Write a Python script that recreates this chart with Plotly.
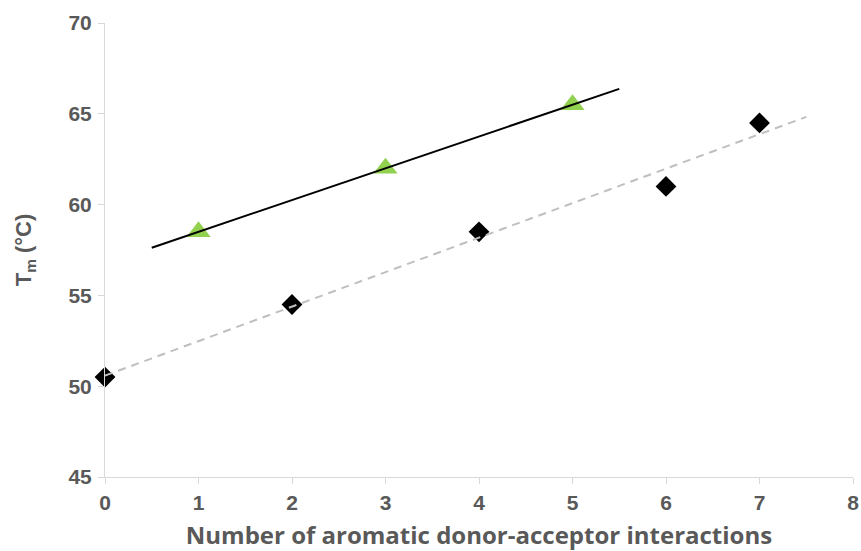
import numpy as np
import plotly.graph_objects as go

# Data
diamond_x = [0, 2, 4, 6, 7]
diamond_y = [50.5, 54.5, 58.5, 61.0, 64.5]
triangle_x = [1, 3, 5]
triangle_y = [58.5, 62.0, 65.5]
diamond_trend_span = [0, 7.5]
triangle_trend_span = [0.5, 5.5]
x_ticks = [0, 1, 2, 3, 4, 5, 6, 7, 8]
y_ticks = [45, 50, 55, 60, 65, 70]

GRAY_TXT = "#595959"
AXIS_COL = "#D9D9D9"

d_coef = np.polyfit(diamond_x, diamond_y, 1)
t_coef = np.polyfit(triangle_x, triangle_y, 1)
d_tx = np.array(diamond_trend_span, dtype=float)
t_tx = np.array(triangle_trend_span, dtype=float)

fig = go.Figure()
fig.add_trace(go.Scatter(
    x=diamond_x, y=diamond_y, mode="markers", cliponaxis=False,
    marker=dict(symbol="diamond", size=16, color="black"), showlegend=False))
fig.add_trace(go.Scatter(
    x=triangle_x, y=triangle_y, mode="markers", cliponaxis=False,
    marker=dict(symbol="triangle-up", size=21, color="#92D050"), showlegend=False))
fig.add_trace(go.Scatter(
    x=d_tx, y=np.polyval(d_coef, d_tx), mode="lines", cliponaxis=False,
    line=dict(color="#BFBFBF", width=2, dash="8px,6px"), showlegend=False))
fig.add_trace(go.Scatter(
    x=t_tx, y=np.polyval(t_coef, t_tx), mode="lines", cliponaxis=False,
    line=dict(color="black", width=2), showlegend=False))

tickfont = dict(family="Liberation Sans", size=21, color=GRAY_TXT, weight="bold")

fig.update_layout(
    width=861, height=551,
    margin=dict(l=105, r=8, t=23, b=74, autoexpand=False),
    plot_bgcolor="white", paper_bgcolor="white",
    xaxis=dict(
        range=[0, 8], tickvals=x_ticks, ticktext=[str(v) for v in x_ticks],
        showgrid=False, zeroline=False, showline=True, linecolor=AXIS_COL, linewidth=1,
        ticks="outside", ticklen=6, tickcolor=AXIS_COL, tickfont=tickfont,
        automargin=False, ticklabelstandoff=1, ticklabeloverflow="allow",
        title=dict(text="Number of aromatic donor-acceptor interactions",
                   font=dict(family="Open Sans", size=24, color=GRAY_TXT, weight="bold"),
                   standoff=19),
    ),
    yaxis=dict(
        range=[45, 70], tickvals=y_ticks, ticktext=[str(v) for v in y_ticks],
        showgrid=False, zeroline=False, showline=True, linecolor=AXIS_COL, linewidth=1,
        ticks="outside", ticklen=6, tickcolor=AXIS_COL, tickfont=tickfont,
        automargin=False, ticklabelstandoff=2, ticklabeloverflow="allow",
        title=dict(text="T<sub>m</sub> (°C)",
                   font=dict(family="Liberation Sans", size=22, color=GRAY_TXT, weight="bold"),
                   standoff=30),
    ),
)

# remove the default page margin so the figure sits at the window's top-left corner
fig.write_html("out.html", config={"displayModeBar": False},
               post_script="document.body.style.margin='0';")
